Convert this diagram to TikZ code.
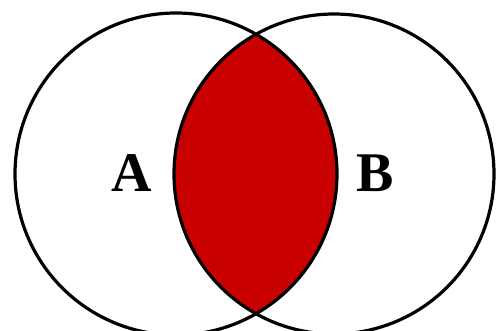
\documentclass[tikz,border=0pt]{standalone}
\usepackage{fontspec}
\setmainfont{Liberation Serif}
\definecolor{setred}{RGB}{200,0,0}
\begin{document}
\begin{tikzpicture}[x=1pt,y=-1pt,line width=3.2pt,
    setlabel/.style={font=\fontsize{56}{56}\selectfont\bfseries,inner sep=0pt}]
                \useasboundingbox (0,0) rectangle (496,331);
                \coordinate (CA) at (176,174);
                \coordinate (CB) at (334,174);
                \begin{scope}
                    \clip (CA) circle[radius=161];
                    \fill[setred] (CB) circle[radius=160];
                \end{scope}
                \draw (CA) circle[radius=161];
                \draw (CB) circle[radius=160];
                \node[setlabel] (A) at (132,173) {A};
                \node[setlabel] (B) at (375,173) {B};
            \end{tikzpicture}
\end{document}
